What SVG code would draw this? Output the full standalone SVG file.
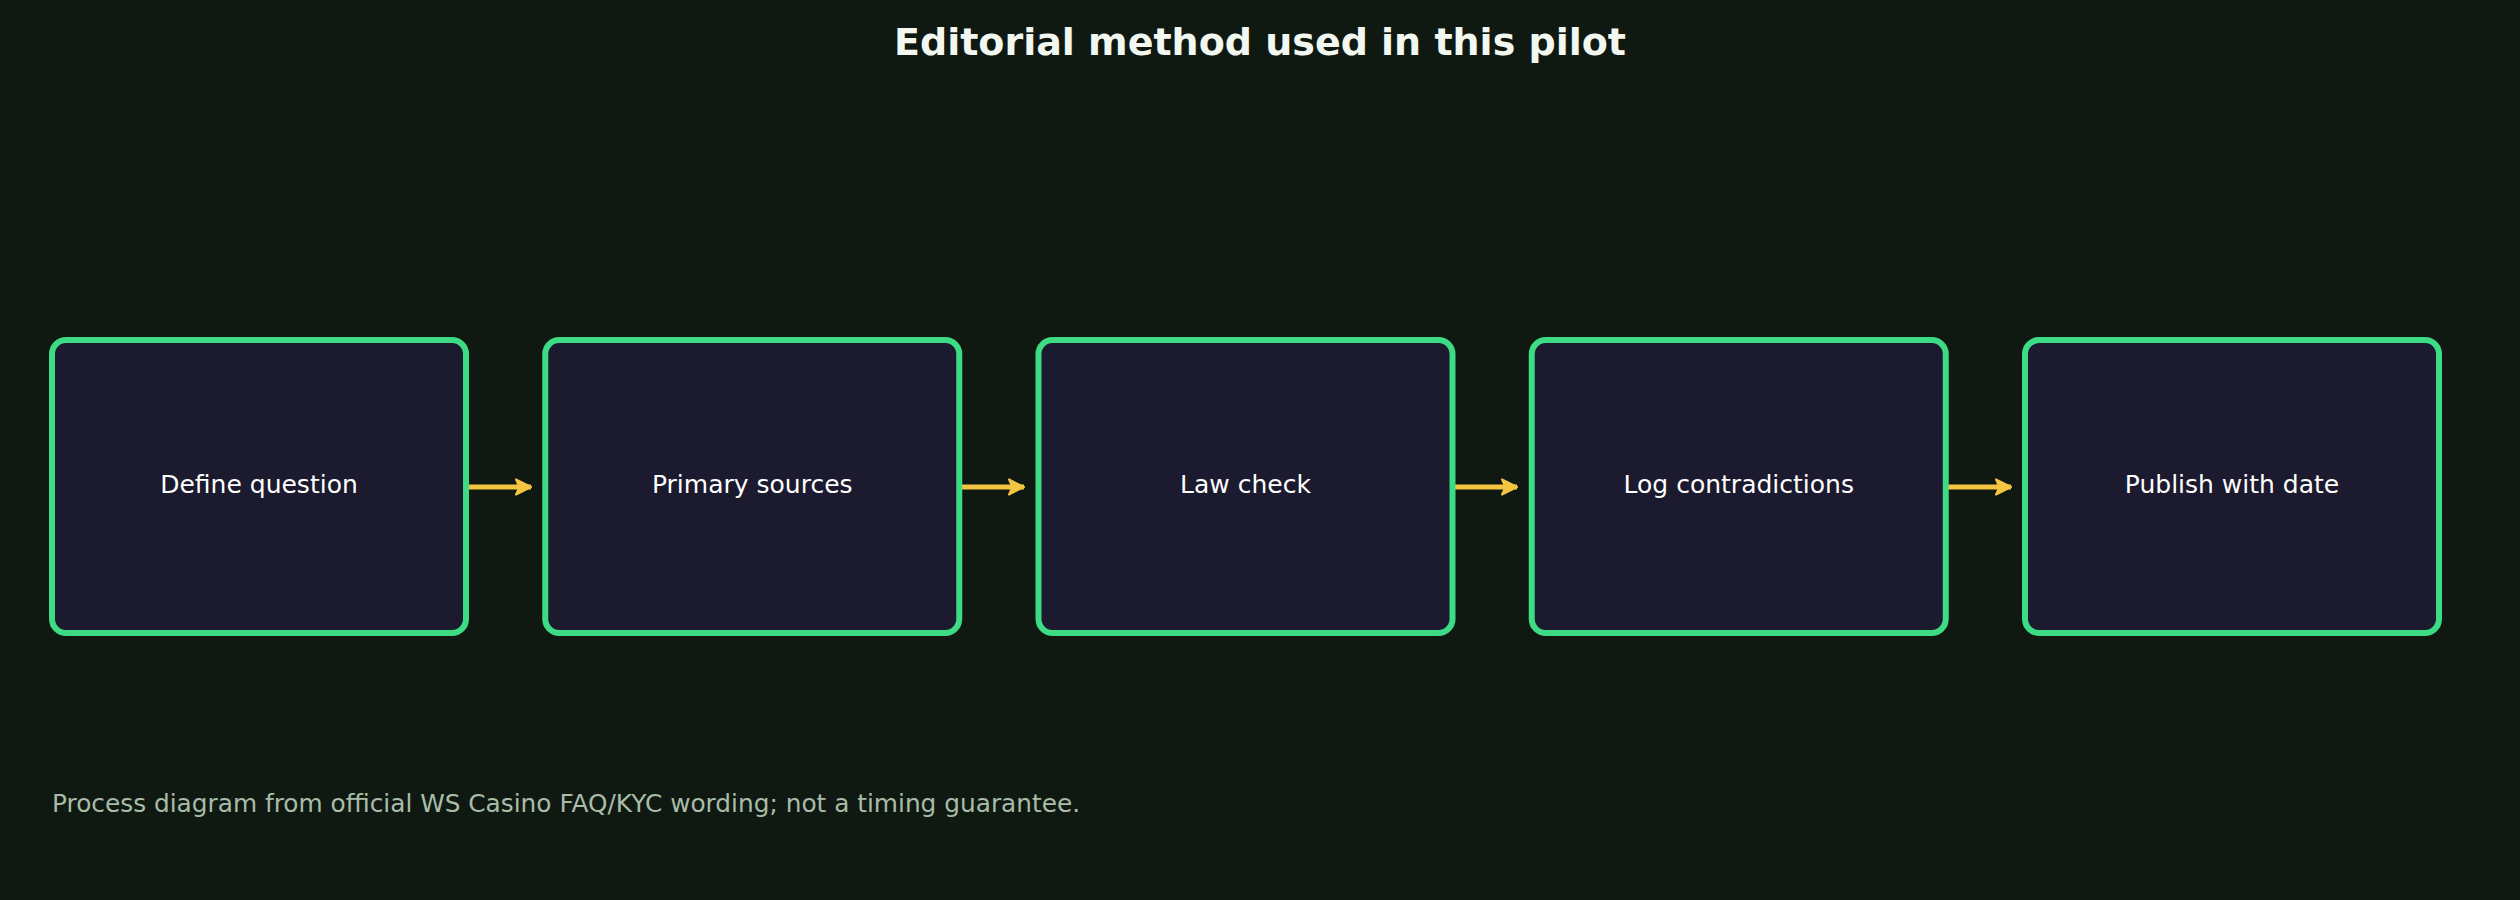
<svg xmlns="http://www.w3.org/2000/svg" width="2520" height="900" viewBox="0 0 2520 900">
<defs>
<style>
.bg{fill:#0f1912}
.node rect{fill:#1b1a2e;stroke:#3ddc84;stroke-width:6}
.node text{font-family:"DejaVu Sans",sans-serif;font-size:25px;fill:#ffffff;text-anchor:middle}
.title{font-family:"DejaVu Sans",sans-serif;font-size:38px;font-weight:bold;fill:#f2f8f0;text-anchor:middle}
.foot{font-family:"DejaVu Sans",sans-serif;font-size:24.8px;fill:#a8bca8}
.conn line{stroke:#f4c542;stroke-width:5;marker-end:url(#arr)}
</style>
<marker id="arr" markerUnits="userSpaceOnUse" markerWidth="18" markerHeight="18" viewBox="0 0 18 18" refX="16" refY="9" orient="auto">
<path d="M1,1.5 L16,9 L1,16.5 L4.5,9 z" fill="#f4c542" stroke="#f4c542" stroke-width="2" stroke-linejoin="round"/>
</marker>
</defs>
<rect class="bg" x="0" y="0" width="2520" height="900"/>
<text class="title" x="1260" y="55">Editorial method used in this pilot</text>
<g id="connectors" class="conn">
<line x1="466" y1="487" x2="531" y2="487"/>
<line x1="959" y1="487" x2="1024" y2="487"/>
<line x1="1452" y1="487" x2="1517" y2="487"/>
<line x1="1946" y1="487" x2="2011" y2="487"/>
</g>
<g id="node1" class="node">
<rect x="52" y="340" width="414" height="293" rx="14"/>
<text x="259" y="493">Define question</text>
</g>
<g id="node2" class="node">
<rect x="545.25" y="340" width="414" height="293" rx="14"/>
<text x="752.25" y="493">Primary sources</text>
</g>
<g id="node3" class="node">
<rect x="1038.5" y="340" width="414" height="293" rx="14"/>
<text x="1245.5" y="493">Law check</text>
</g>
<g id="node4" class="node">
<rect x="1531.75" y="340" width="414" height="293" rx="14"/>
<text x="1738.75" y="493">Log contradictions</text>
</g>
<g id="node5" class="node">
<rect x="2025" y="340" width="414" height="293" rx="14"/>
<text x="2232" y="493">Publish with date</text>
</g>
<text class="foot" x="52" y="812">Process diagram from official WS Casino FAQ/KYC wording; not a timing guarantee.</text>
</svg>
